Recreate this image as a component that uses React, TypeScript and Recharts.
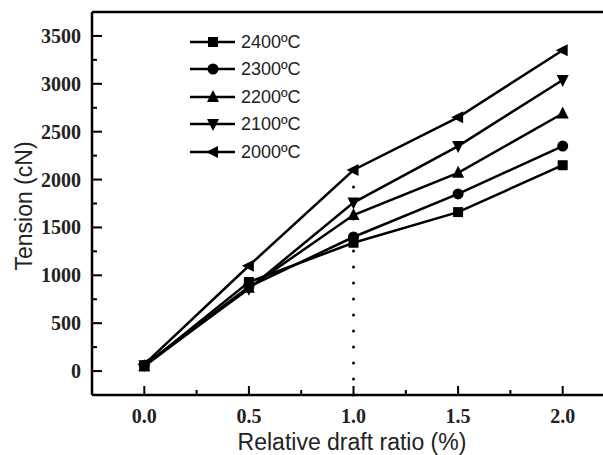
import { Legend, Line, LineChart, ReferenceLine, XAxis, YAxis } from "recharts"

// relative draft ratio (%) and tension (cN) for each temperature
const ratios = [0, 0.5, 1.0, 1.5, 2.0]
const t2400 = [50, 930, 1340, 1660, 2150]
const t2300 = [60, 880, 1400, 1850, 2350]
const t2200 = [50, 870, 1630, 2070, 2690]
const t2100 = [60, 860, 1760, 2350, 3040]
const t2000 = [70, 1100, 2100, 2650, 3350]

const xTicks = [0, 0.25, 0.5, 0.75, 1.0, 1.25, 1.5, 1.75, 2.0]
const yTicks = [0, 250, 500, 750, 1000, 1250, 1500, 1750, 2000, 2250, 2500, 2750, 3000, 3250, 3500]

const data = ratios.map((r, i) => ({
  r,
  t2400: t2400[i],
  t2300: t2300[i],
  t2200: t2200[i],
  t2100: t2100[i],
  t2000: t2000[i],
}))

type Shape = "square" | "circle" | "up" | "down" | "left"

const series: { key: string; name: string; shape: Shape }[] = [
  { key: "t2400", name: "2400ºC", shape: "square" },
  { key: "t2300", name: "2300ºC", shape: "circle" },
  { key: "t2200", name: "2200ºC", shape: "up" },
  { key: "t2100", name: "2100ºC", shape: "down" },
  { key: "t2000", name: "2000ºC", shape: "left" },
]

const INK = "#000"
const PLOT_LEFT = 92
const PLOT_BOTTOM = 395

function Marker({ cx, cy, shape }: { cx: number; cy: number; shape: Shape }) {
  const s = 6
  if (shape === "square") return <rect x={cx - 5} y={cy - 5} width={10} height={10} fill={INK} />
  if (shape === "circle") return <circle cx={cx} cy={cy} r={5.5} fill={INK} />
  if (shape === "up")
    return <polygon points={`${cx},${cy - s - 1} ${cx - s},${cy + s - 1} ${cx + s},${cy + s - 1}`} fill={INK} />
  if (shape === "down")
    return <polygon points={`${cx},${cy + s + 1} ${cx - s},${cy - s + 1} ${cx + s},${cy - s + 1}`} fill={INK} />
  return <polygon points={`${cx - s - 1},${cy} ${cx + s - 1},${cy - s} ${cx + s - 1},${cy + s}`} fill={INK} />
}

const isMajor = (v: number, step: number) => Math.abs(v / step - Math.round(v / step)) < 1e-6

function XTick({ x, payload }: any) {
  const major = isMajor(payload.value, 0.5)
  return (
    <g>
      <line x1={x} x2={x} y1={PLOT_BOTTOM} y2={PLOT_BOTTOM - (major ? 9 : 5)} stroke={INK} strokeWidth={2} />
      {major && (
        <text
          x={x}
          y={423}
          textAnchor="middle"
          fontFamily="'Liberation Serif', 'Times New Roman', serif"
          fontWeight="bold"
          fontSize={20}
          fill="#222"
        >
          {payload.value.toFixed(1)}
        </text>
      )}
    </g>
  )
}

function YTick({ y, payload }: any) {
  const major = isMajor(payload.value, 500)
  return (
    <g>
      <line x1={PLOT_LEFT} x2={PLOT_LEFT + (major ? 10 : 5)} y1={y} y2={y} stroke={INK} strokeWidth={2} />
      {major && (
        <text
          x={81}
          y={y + 7}
          textAnchor="end"
          fontFamily="'Liberation Serif', 'Times New Roman', serif"
          fontWeight="bold"
          fontSize={20}
          fill="#222"
        >
          {payload.value}
        </text>
      )}
    </g>
  )
}

function LegendBox() {
  return (
    <div style={{ fontFamily: "'Liberation Sans', Arial, sans-serif", fontSize: 18, color: "#222" }}>
      {series.map((s) => (
        <div key={s.key} style={{ display: "flex", alignItems: "center", height: 27.5 }}>
          <svg width={50} height={20}>
            <line x1={2} x2={47} y1={10} y2={10} stroke={INK} strokeWidth={2.5} />
            <Marker cx={25} cy={10} shape={s.shape} />
          </svg>
          <span style={{ marginLeft: 3, lineHeight: "18px" }}>{s.name}</span>
        </div>
      ))}
    </div>
  )
}

export default function App() {
  return (
    <div
      style={{
        position: "fixed",
        left: 0,
        top: 0,
        width: 603,
        height: 455,
        overflow: "hidden",
        background: "#fff",
      }}
    >
      <LineChart width={640} height={455} data={data} margin={{ top: 12, right: 25, bottom: 0, left: 0 }}>
        <XAxis
          dataKey="r"
          type="number"
          domain={[-0.25, 2.25]}
          ticks={xTicks}
          interval={0}
          height={60}
          tickLine={false}
          tick={<XTick />}
          axisLine={{ stroke: INK, strokeWidth: 2.5 }}
          label={{
            content: () => (
              <text
                x={352}
                y={450}
                textAnchor="middle"
                fontFamily="'Liberation Sans', Arial, sans-serif"
                fontSize={23}
                fill="#222"
              >
                Relative draft ratio (%)
              </text>
            ),
          }}
        />
        <YAxis
          type="number"
          domain={[-250, 3750]}
          ticks={yTicks}
          interval={0}
          width={92}
          tickLine={false}
          tick={<YTick />}
          axisLine={{ stroke: INK, strokeWidth: 2.5 }}
          label={{
            content: () => (
              <text
                x={32}
                y={206}
                transform="rotate(-90, 32, 206)"
                textAnchor="middle"
                fontFamily="'Liberation Sans', Arial, sans-serif"
                fontSize={23}
                fill="#222"
              >
                Tension (cN)
              </text>
            ),
          }}
        />
        <ReferenceLine y={3750} stroke={INK} strokeWidth={2.5} />
        <ReferenceLine
          segment={[
            { x: 1.0, y: -250 },
            { x: 1.0, y: 2100 },
          ]}
          stroke={INK}
          strokeWidth={3}
          strokeDasharray="0 16"
          strokeLinecap="round"
        />
        {series.map((s) => (
          <Line
            key={s.key}
            dataKey={s.key}
            name={s.name}
            stroke={INK}
            strokeWidth={2.5}
            isAnimationActive={false}
            dot={(p: any) => <Marker key={`${s.key}-${p.index}`} cx={p.cx} cy={p.cy} shape={s.shape} />}
            activeDot={false}
          />
        ))}
        <Legend
          layout="vertical"
          align="center"
          verticalAlign="middle"
          content={() => <LegendBox />}
          wrapperStyle={{ left: 188, top: 28, width: "auto", bottom: "auto" }}
        />
      </LineChart>
    </div>
  )
}
